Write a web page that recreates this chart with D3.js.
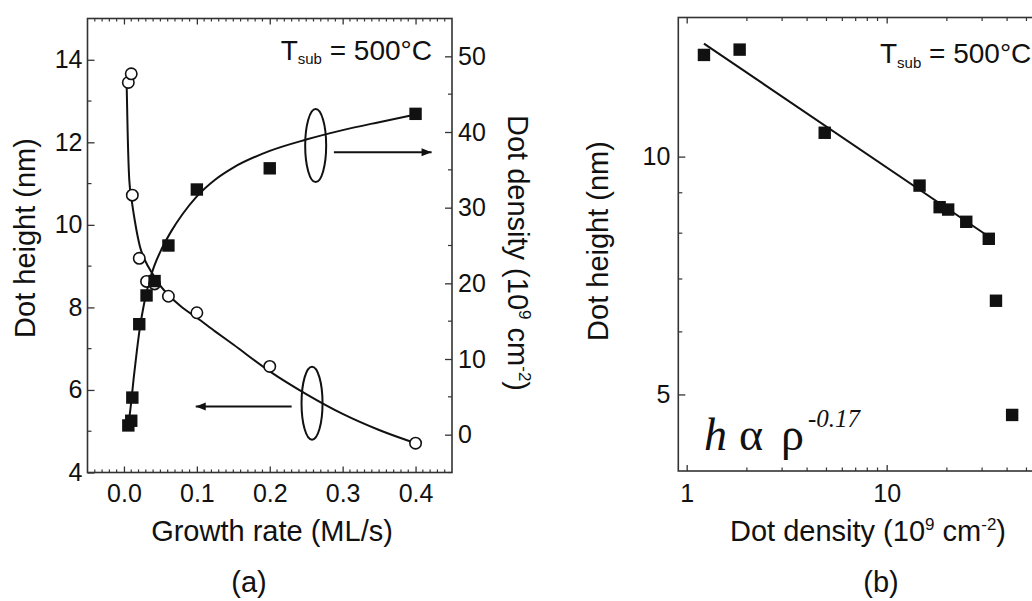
<!DOCTYPE html>
<html><head><meta charset="utf-8">
<script src="https://cdn.jsdelivr.net/npm/d3@7"></script>
<style>
html,body{margin:0;padding:0;background:#fff;}
svg{display:block;}
text{font-family:"Liberation Sans",Arial,sans-serif;fill:#111;}
</style></head>
<body>
<svg id="c" width="1032" height="601"></svg>
<script>
// ---- data ----
const growthRate = [0.006, 0.010, 0.0115, 0.021, 0.031, 0.042, 0.061, 0.1, 0.2, 0.4];
const dotHeight  = [13.45, 13.66, 10.72, 9.19, 8.63, 8.57, 8.27, 7.87, 6.57, 4.71];
const dotDensity = [1.22, 1.84, 4.9, 14.6, 18.4, 20.3, 25.0, 32.4, 35.2, 42.4];

// fitted curves of panel (a)
const heightFitRate = [0.0038,0.0051,0.0073,0.0106,0.0152,0.022,0.03,0.038,0.05,0.06,0.08,0.1,0.125,0.15,0.2,0.25,0.3,0.35,0.4];
const heightFitVal  = [13.32,12.23,11.09,10.6,10.07,9.47,9.10,8.85,8.52,8.32,8.0,7.75,7.42,7.1,6.45,5.9,5.42,5.03,4.71];
const densFitRate = [0.0056,0.0095,0.0135,0.018,0.022,0.027,0.034,0.042,0.052,0.065,0.08,0.1,0.125,0.15,0.2,0.25,0.3,0.35,0.4];
const densFitVal  = [0.9,3.9,7.6,11.3,14.2,17.0,20.0,22.4,24.6,26.9,29.1,31.5,33.7,35.3,37.5,39.0,40.25,41.3,42.3];

// power-law fit of panel (b): h ~ rho^-0.17 (end points)
const fitDensity = [1.22, 31];
const fitHeight  = [13.9, 7.98];

// tick values
const rateMajor = [0, 0.1, 0.2, 0.3, 0.4];
const heightMajorA = [4, 6, 8, 10, 12, 14];
const heightMinorA = [5, 7, 9, 11, 13];
const densMajorA = [0, 10, 20, 30, 40, 50];
const densMinorA = [-5, 5, 15, 25, 35, 45];
const densTickB = [1, 10];
const densMinorB = [2,3,4,5,6,7,8,9,20,30,40,50];
const heightTickB = [5, 10];
const heightMinorB = [6,7,8,9];

const svg = d3.select("#c");
const INK = "#111", FRAME = "#333";

// ================= panel (a) =================
const A = {l:87.5, r:452, t:18.5, b:472.5};
const xA = d3.scaleLinear().domain([-0.05, 0.45]).range([A.l, A.r]);
const yH = d3.scaleLinear().domain([4, 15]).range([A.b, A.t]);
const yD = d3.scaleLinear().domain([-5, 55]).range([A.b, A.t]);

const gA = svg.append("g");

function minorTicks(g, vals, pos, orient, o) {
  g.selectAll(null).data(vals).enter().append("line")
    .attr("stroke", FRAME).attr("stroke-width", 1.2)
    .each(function(v){
      const s = d3.select(this);
      if (orient === "bottom") s.attr("x1",pos(v)).attr("x2",pos(v)).attr("y1",o.y).attr("y2",o.y-o.l);
      if (orient === "top") s.attr("x1",pos(v)).attr("x2",pos(v)).attr("y1",o.y).attr("y2",o.y+o.l);
      if (orient === "left") s.attr("y1",pos(v)).attr("y2",pos(v)).attr("x1",o.x).attr("x2",o.x+o.l);
      if (orient === "right") s.attr("y1",pos(v)).attr("y2",pos(v)).attr("x1",o.x).attr("x2",o.x-o.l);
    });
}
function styleAxis(g, fs) {
  g.select(".domain").remove();
  g.selectAll(".tick line").attr("stroke", FRAME).attr("stroke-width", 1.3);
  g.selectAll(".tick text").attr("font-size", fs).attr("fill", INK)
    .style("font-family", '"Liberation Sans", Arial, sans-serif');
}

// minor ticks (every 0.01 on x)
const xMinorA = d3.range(-4, 45).map(i => i/100).filter(v => Math.abs(v*10 - Math.round(v*10)) > 1e-6);
minorTicks(gA, xMinorA, xA, "bottom", {y:A.b, l:3});
minorTicks(gA, xMinorA, xA, "top", {y:A.t, l:3});
minorTicks(gA, heightMinorA, yH, "left", {x:A.l, l:4});
minorTicks(gA, densMinorA, yD, "right", {x:A.r, l:4});

const axB = gA.append("g").attr("transform",`translate(0,${A.b})`)
  .call(d3.axisBottom(xA).tickValues(rateMajor).tickSize(-6).tickPadding(11.5).tickFormat(d3.format(".1f")));
styleAxis(axB, 25);
const axT = gA.append("g").attr("transform",`translate(0,${A.t})`)
  .call(d3.axisTop(xA).tickValues(rateMajor).tickSize(-6).tickFormat(""));
styleAxis(axT, 25);
const axL = gA.append("g").attr("transform",`translate(${A.l},0)`)
  .call(d3.axisLeft(yH).tickValues(heightMajorA).tickSize(-7).tickPadding(5));
styleAxis(axL, 25);
const axR = gA.append("g").attr("transform",`translate(${A.r},0)`)
  .call(d3.axisRight(yD).tickValues(densMajorA).tickSize(-7).tickPadding(6));
styleAxis(axR, 25);

gA.append("rect").attr("x",A.l).attr("y",A.t).attr("width",A.r-A.l).attr("height",A.b-A.t)
  .attr("fill","none").attr("stroke",FRAME).attr("stroke-width",1.6);

// fitted curves
const lineH = d3.line().x(d=>xA(d[0])).y(d=>yH(d[1])).curve(d3.curveMonotoneX);
const lineD = d3.line().x(d=>xA(d[0])).y(d=>yD(d[1])).curve(d3.curveMonotoneX);
gA.append("path").attr("d", lineH(d3.zip(heightFitRate, heightFitVal)))
  .attr("fill","none").attr("stroke",INK).attr("stroke-width",2);
gA.append("path").attr("d", lineD(d3.zip(densFitRate, densFitVal)))
  .attr("fill","none").attr("stroke",INK).attr("stroke-width",2);

// markers
const ptsA = d3.zip(growthRate, dotHeight, dotDensity);
gA.selectAll(null).data(ptsA).enter().append("circle")
  .attr("cx", d=>xA(d[0])).attr("cy", d=>yH(d[1])).attr("r",5.7)
  .attr("fill","#fff").attr("stroke",INK).attr("stroke-width",1.6);
gA.selectAll(null).data(ptsA).enter().append("rect")
  .attr("x", d=>xA(d[0])-6.2).attr("y", d=>yD(d[2])-6.2).attr("width",12.4).attr("height",12.4)
  .attr("fill",INK);

// annotations: ellipses and arrows
svg.append("defs").append("marker").attr("id","ah").attr("viewBox","0 0 10 10")
  .attr("refX",10).attr("refY",5).attr("markerWidth",11).attr("markerHeight",10)
  .attr("markerUnits","userSpaceOnUse").attr("orient","auto")
  .append("path").attr("d","M0,1 L10,5 L0,9 Z").attr("fill",INK);
function ann(cx, cy, x1, x2, ya) {
  gA.append("ellipse").attr("cx",xA(cx)).attr("cy",yH(cy)).attr("rx",10.5).attr("ry",36.5)
    .attr("fill","none").attr("stroke",INK).attr("stroke-width",2);
  gA.append("line").attr("x1",xA(x1)).attr("x2",xA(x2)).attr("y1",yH(ya)).attr("y2",yH(ya))
    .attr("stroke",INK).attr("stroke-width",2).attr("marker-end","url(#ah)");
}
ann(0.263, 11.92, 0.288, 0.422, 11.76);
ann(0.258, 5.68, 0.230, 0.0985, 5.60);

// texts panel (a)
const tA = gA.append("text").attr("x",432).attr("y",60).attr("text-anchor","end").attr("font-size",28);
tA.append("tspan").text("T");
tA.append("tspan").attr("font-size",15).attr("dy",4).text("sub");
tA.append("tspan").attr("dy",-4).text(" = 500°C");

gA.append("text").attr("transform","translate(35,238) rotate(-90)").attr("text-anchor","middle")
  .attr("font-size",29).text("Dot height (nm)");
const rt = gA.append("text").attr("transform","translate(508,253) rotate(90)").attr("text-anchor","middle")
  .attr("font-size",29);
rt.append("tspan").text("Dot density (10");
rt.append("tspan").attr("font-size",17).attr("dy",-11).text("9");
rt.append("tspan").attr("dy",11).text(" cm");
rt.append("tspan").attr("font-size",17).attr("dy",-11).text("-2");
rt.append("tspan").attr("dy",11).text(")");
gA.append("text").attr("x",272).attr("y",541).attr("text-anchor","middle").attr("font-size",29)
  .text("Growth rate (ML/s)");
gA.append("text").attr("x",249).attr("y",592).attr("text-anchor","middle").attr("font-size",29).text("(a)");

// ================= panel (b) =================
const B = {l:678.3, r:1042.3, t:17.5, b:471};
const xB = d3.scaleLog().domain([0.908, 60]).range([B.l, B.r]);
const yB = d3.scaleLog().domain([4, 15]).range([B.b, B.t]);
const gB = svg.append("g");

minorTicks(gB, densMinorB, xB, "bottom", {y:B.b, l:3.5});
minorTicks(gB, densMinorB, xB, "top", {y:B.t, l:3.5});
minorTicks(gB, heightMinorB, yB, "left", {x:B.l, l:4});

const bxB = gB.append("g").attr("transform",`translate(0,${B.b})`)
  .call(d3.axisBottom(xB).tickValues(densTickB).tickSize(-6).tickPadding(13.5).tickFormat(d3.format("d")));
styleAxis(bxB, 25);
const bxT = gB.append("g").attr("transform",`translate(0,${B.t})`)
  .call(d3.axisTop(xB).tickValues(densTickB).tickSize(-6).tickFormat(""));
styleAxis(bxT, 25);
const byL = gB.append("g").attr("transform",`translate(${B.l},0)`)
  .call(d3.axisLeft(yB).tickValues(heightTickB).tickSize(-7).tickPadding(8).tickFormat(d3.format("d")));
styleAxis(byL, 25);

gB.append("rect").attr("x",B.l).attr("y",B.t).attr("width",B.r-B.l).attr("height",B.b-B.t)
  .attr("fill","none").attr("stroke",FRAME).attr("stroke-width",1.6);

gB.append("path").attr("d", d3.line().x(d=>xB(d[0])).y(d=>yB(d[1]))(d3.zip(fitDensity, fitHeight)))
  .attr("fill","none").attr("stroke",INK).attr("stroke-width",2);
gB.selectAll(null).data(d3.zip(dotDensity, dotHeight)).enter().append("rect")
  .attr("x", d=>xB(d[0])-6.2).attr("y", d=>yB(d[1])-6.2).attr("width",12.4).attr("height",12.4)
  .attr("fill",INK);

const tB = gB.append("text").attr("x",880).attr("y",63).attr("font-size",28);
tB.append("tspan").text("T");
tB.append("tspan").attr("font-size",15).attr("dy",5).text("sub");
tB.append("tspan").attr("dy",-5).text(" = 500°C");

gB.append("text").attr("transform","translate(608,241) rotate(-90)").attr("text-anchor","middle")
  .attr("font-size",29).text("Dot height (nm)");
const bt = gB.append("text").attr("x",868).attr("y",541).attr("text-anchor","middle").attr("font-size",29);
bt.append("tspan").text("Dot density (10");
bt.append("tspan").attr("font-size",17).attr("dy",-11).text("9");
bt.append("tspan").attr("dy",11).text(" cm");
bt.append("tspan").attr("font-size",17).attr("dy",-11).text("-2");
bt.append("tspan").attr("dy",11).text(")");
gB.append("text").attr("x",881).attr("y",592).attr("text-anchor","middle").attr("font-size",29).text("(b)");

// formula h α ρ^-0.17
const serif = '"Liberation Serif","Times New Roman",serif';
gB.append("text").attr("x",704).attr("y",450).attr("font-size",46).style("font-family",serif)
  .attr("font-style","italic").text("h");
gB.append("text").attr("x",739).attr("y",450).attr("font-size",46).style("font-family",serif).text("α");
gB.append("text").attr("x",781).attr("y",450).attr("font-size",46).style("font-family",serif).text("ρ");
gB.append("text").attr("x",808).attr("y",427).attr("font-size",25).style("font-family",serif)
  .attr("font-style","italic").text("-0.17");
</script>
</body></html>
